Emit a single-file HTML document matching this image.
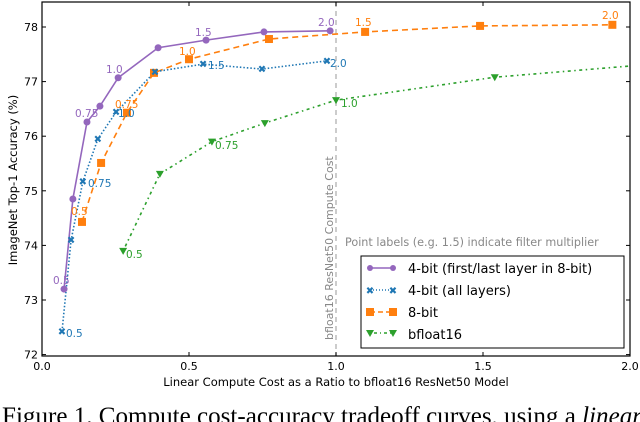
<!DOCTYPE html>
<html><head><meta charset="utf-8"><style>
body{margin:0;background:#fff;width:640px;height:422px;overflow:hidden}
svg{display:block;font-family:"DejaVu Sans","Liberation Sans",sans-serif}
</style></head><body>
<svg id="chart" width="640" height="422" viewBox="0 0 640 422">
<defs><clipPath id="plotclip"><rect x="42" y="2" width="588" height="354"/></clipPath></defs>
<g id="grid"></g>
<g id="series" clip-path="url(#plotclip)"></g>
<g id="labels"></g>
<rect x="42" y="2" width="588" height="354" fill="none" stroke="#000" stroke-width="1.2"/>
<g id="axes"></g>
<text transform="translate(333,340) rotate(-90)" font-size="11" fill="#888">bfloat16 ResNet50 Compute Cost</text>
<text x="345" y="246" font-size="11.2" fill="#888">Point labels (e.g. 1.5) indicate filter multiplier</text>
<g>
<rect x="361" y="256" width="263" height="92" fill="#fff" stroke="#000" stroke-width="1"/>
<g>
<line x1="370" y1="268" x2="393" y2="268" stroke="#9467bd" stroke-width="1.5"/><circle cx="370" cy="268" r="3" fill="#9467bd"/><circle cx="393" cy="268" r="3" fill="#9467bd"/>
<text x="408" y="273" font-size="13">4-bit (first/last layer in 8-bit)</text></g>
<g>
<line x1="370" y1="290" x2="393" y2="290" stroke="#1f77b4" stroke-width="1.5" stroke-dasharray="1,2"/>
<text x="370" y="294" font-size="10" fill="#1f77b4" text-anchor="middle" font-weight="bold">✖</text><text x="393" y="294" font-size="10" fill="#1f77b4" text-anchor="middle" font-weight="bold">✖</text>
<text x="408" y="295" font-size="13">4-bit (all layers)</text></g>
<g>
<line x1="370" y1="312" x2="393" y2="312" stroke="#ff7f0e" stroke-width="1.5" stroke-dasharray="5,3"/><rect x="366" y="308" width="8" height="8" fill="#ff7f0e"/><rect x="389" y="308" width="8" height="8" fill="#ff7f0e"/>
<text x="408" y="317" font-size="13">8-bit</text></g>
<g>
<line x1="370" y1="333" x2="393" y2="333" stroke="#2ca02c" stroke-width="1.5" stroke-dasharray="1,3,3,3"/><path d="M366 330 L374 330 L370 337Z" fill="#2ca02c"/><path d="M389 330 L397 330 L393 337Z" fill="#2ca02c"/>
<text x="408" y="339" font-size="13">bfloat16</text></g>
</g>
<text x="336" y="386" font-size="11.5" text-anchor="middle">Linear Compute Cost as a Ratio to bfloat16 ResNet50 Model</text>
<text transform="translate(17,180) rotate(-90)" font-size="11.5" text-anchor="middle">ImageNet Top-1 Accuracy (%)</text>
<text x="2" y="424" font-size="25" font-family="Liberation Serif,serif" textLength="640" lengthAdjust="spacingAndGlyphs">Figure 1. Compute cost-accuracy tradeoff curves, using a <tspan font-style="italic">linear</tspan></text>
</svg>
<script>
const xTicks=[0.0,0.5,1.0,1.5,2.0];
const yTicks=[72,73,74,75,76,77,78];
const p4x=[0.075,0.105,0.153,0.197,0.259,0.395,0.558,0.755,0.98];
const p4y=[73.2,74.85,76.26,76.55,77.07,77.62,77.76,77.91,77.93];
const b4x=[0.068,0.099,0.139,0.19,0.252,0.384,0.548,0.748,0.969];
const b4y=[72.42,74.1,75.17,75.95,76.44,77.18,77.32,77.23,77.38];
const o8x=[0.136,0.201,0.289,0.381,0.5,0.772,1.099,1.49,1.94];
const o8y=[74.43,75.51,76.43,77.16,77.41,77.78,77.91,78.02,78.04];
const gbx=[0.276,0.401,0.578,0.758,1.0,1.54,2.3];
const gby=[73.9,75.31,75.9,76.24,76.66,77.08,77.42];
const X=v=>42+v*294, Y=v=>27+(78-v)*54.6;
const NS='http://www.w3.org/2000/svg';
function mk(tag,attrs,parent){const e=document.createElementNS(NS,tag);for(const k in attrs)e.setAttribute(k,attrs[k]);parent.appendChild(e);return e;}
const axes=document.getElementById('axes'),series=document.getElementById('series'),labels=document.getElementById('labels');
xTicks.forEach(t=>{const x=X(t);
 let l=mk('line',{x1:x,y1:356,x2:x,y2:352,stroke:'#000'},axes);
 
 
 l=mk('line',{x1:x,y1:2,x2:x,y2:6,stroke:'#000'},axes);
 
 
 const tx=mk('text',{x:x,y:370,'font-size':11,'text-anchor':'middle'},axes);tx.textContent=t.toFixed(1);
 
 
});
yTicks.forEach(t=>{const y=Y(t);
 let l=mk('line',{x1:42,y1:y,x2:46,y2:y,stroke:'#000'},axes);
 
 
 l=mk('line',{x1:630,y1:y,x2:626,y2:y,stroke:'#000'},axes);
 
 
 const tx=mk('text',{x:38,y:y+4,'font-size':11,'text-anchor':'end'},axes);tx.textContent=t;
 
 
});
const ref=mk('line',{x1:X(1),y1:2,x2:X(1),y2:356,stroke:'#bbb','stroke-width':1.5,'stroke-dasharray':'5,4'},document.getElementById('grid'));


function line(xs,ys,color,dash,name){
 const d=xs.map((v,i)=>(i?'L':'M')+X(v)+' '+Y(ys[i])).join(' ');
 const p=mk('path',{d:d,fill:'none',stroke:color,'stroke-width':1.6,'stroke-dasharray':dash},series);
 
 
}
line(gbx,gby,'#2ca02c','1.5,3.5,3,3.5','bfloat16-line');
line(o8x,o8y,'#ff7f0e','6,4','8bit-line');
line(b4x,b4y,'#1f77b4','1.5,2','4bit-all-line');
line(p4x,p4y,'#9467bd','','4bit-fl-line');
gbx.forEach((v,i)=>{const x=X(v),y=Y(gby[i]);
 const m=mk('path',{d:`M${x-4} ${y-3}L${x+4} ${y-3}L${x} ${y+4}Z`,fill:'#2ca02c'},series);
 
 });
o8x.forEach((v,i)=>{const m=mk('rect',{x:X(v)-4,y:Y(o8y[i])-4,width:8,height:8,fill:'#ff7f0e'},series);
 
 });
b4x.forEach((v,i)=>{const m=mk('text',{x:X(v),y:Y(b4y[i])+3.5,'font-size':10,'font-weight':'bold',fill:'#1f77b4','text-anchor':'middle'},series);m.textContent='✖';
 
 });
p4x.forEach((v,i)=>{const m=mk('circle',{cx:X(v),cy:Y(p4y[i]),r:3.5,fill:'#9467bd'},series);
 
 });
const pl=[['0.5',53,284,'#9467bd'],['0.75',75,117,'#9467bd'],['1.0',106,73,'#9467bd'],['1.5',195,36,'#9467bd'],['2.0',318,26,'#9467bd'],
['0.5',66,337,'#1f77b4'],['0.75',88,187,'#1f77b4'],['1.0',118,117,'#1f77b4'],['1.5',208,69,'#1f77b4'],['2.0',330,67,'#1f77b4'],
['0.5',71,215,'#ff7f0e'],['0.75',115,108,'#ff7f0e'],['1.0',179,55,'#ff7f0e'],['1.5',355,26,'#ff7f0e'],['2.0',602,19,'#ff7f0e'],
['0.5',126,258,'#2ca02c'],['0.75',215,149,'#2ca02c'],['1.0',341,107,'#2ca02c']];
pl.forEach(a=>{const t=mk('text',{x:a[1],y:a[2],'font-size':10.5,fill:a[3]},labels);t.textContent=a[0];
 
 });
</script>
</body></html>
